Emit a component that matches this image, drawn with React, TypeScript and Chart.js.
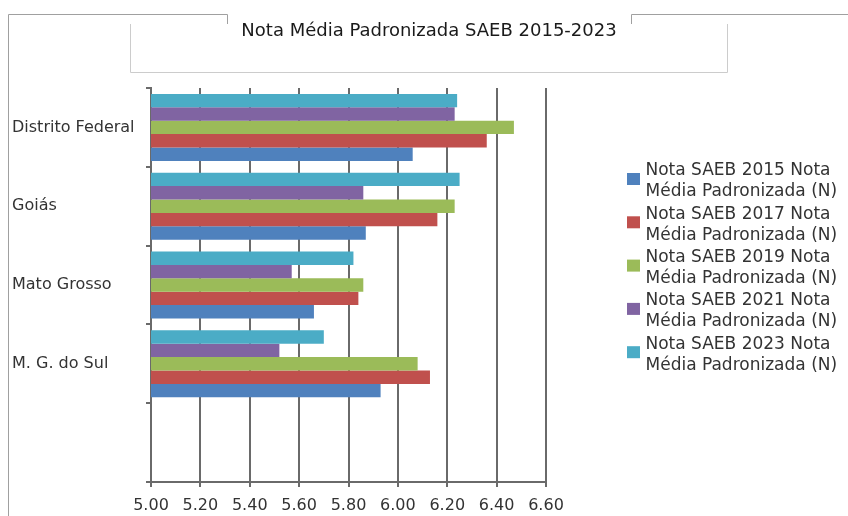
import React, { useEffect, useRef } from 'react';
import { Chart, registerables } from 'chart.js';

Chart.register(...registerables);

// ---- data ----
const categories = ['Distrito Federal', 'Goiás', 'Mato Grosso', 'M. G. do Sul', ''];
const saeb2015 = [6.06, 5.87, 5.66, 5.93, null];
const saeb2017 = [6.36, 6.16, 5.84, 6.13, null];
const saeb2019 = [6.47, 6.23, 5.86, 6.08, null];
const saeb2021 = [6.23, 5.86, 5.57, 5.52, null];
const saeb2023 = [6.24, 6.25, 5.82, 5.70, null];
const seriesNames = [
  'Nota SAEB 2015 Nota\nMédia Padronizada (N)',
  'Nota SAEB 2017 Nota\nMédia Padronizada (N)',
  'Nota SAEB 2019 Nota\nMédia Padronizada (N)',
  'Nota SAEB 2021 Nota\nMédia Padronizada (N)',
  'Nota SAEB 2023 Nota\nMédia Padronizada (N)',
];
const seriesColors = ['#4F81BD', '#C0504D', '#9BBB59', '#8064A2', '#4BACC6'];
const xMin = 5.0;
const xMax = 6.6;
const xStep = 0.2;
const chartTitle = 'Nota Média Padronizada SAEB 2015-2023';

const FONT = '"DejaVu Sans", "Liberation Sans", sans-serif';

const decorPlugin = {
  id: 'decor',
  afterDraw(chart: any) {
    const ctx = chart.ctx as CanvasRenderingContext2D;
    const W = chart.width;
    const H = chart.height;
    const area = chart.chartArea;
    ctx.save();
    // outer frame (with gap for title)
    ctx.strokeStyle = '#a0a0a0';
    ctx.lineWidth = 1;
    ctx.beginPath();
    ctx.moveTo(227.5, 24);
    ctx.lineTo(227.5, 14.5);
    ctx.lineTo(8.5, 14.5);
    ctx.lineTo(8.5, H);
    ctx.moveTo(631.5, 24);
    ctx.lineTo(631.5, 14.5);
    ctx.lineTo(W, 14.5);
    ctx.stroke();
    // title box
    ctx.strokeStyle = '#cccccc';
    ctx.beginPath();
    ctx.moveTo(130.5, 24);
    ctx.lineTo(130.5, 72.5);
    ctx.lineTo(727.5, 72.5);
    ctx.lineTo(727.5, 24);
    ctx.stroke();
    // title text
    ctx.fillStyle = '#1a1a1a';
    ctx.font = `18px ${FONT}`;
    ctx.textAlign = 'center';
    ctx.textBaseline = 'middle';
    ctx.fillText(chartTitle, 429, 31);

    // legend (series in reverse dataset order: 2015 first)
    const ds = chart.data.datasets;
    const n = ds.length;
    const lx = area.right + 81;
    const ly = 171;
    const itemH = 43.3;
    const lineH = 21;
    ctx.font = `17px ${FONT}`;
    ctx.textAlign = 'left';
    for (let i = 0; i < n; i++) {
      const d = ds[n - 1 - i];
      const y0 = ly + itemH * i;
      ctx.fillStyle = d.backgroundColor;
      ctx.fillRect(lx, y0 + 2, 13, 12);
      ctx.fillStyle = '#333333';
      const lines = String(d.legendText).split('\n');
      lines.forEach((t: string, k: number) => ctx.fillText(t, lx + 18.5, y0 + k * lineH));
    }
    ctx.restore();
  },
};

export default function App() {
  const ref = useRef<HTMLCanvasElement | null>(null);
  useEffect(() => {
    if (!ref.current) return;
    const series = [saeb2015, saeb2017, saeb2019, saeb2021, saeb2023];
    // Reverse so 2023 sits on top of each group like the reference
    const datasets = series
      .map((data, i) => ({
        label: seriesNames[i].replace('\n', ' '),
        legendText: seriesNames[i],
        data,
        backgroundColor: seriesColors[i],
        borderWidth: 0,
        barPercentage: 1,
        categoryPercentage: 0.85,
      }))
      .reverse();
    const gridColor = '#6a6a6a';
    const chart = new Chart(ref.current, {
      type: 'bar',
      data: { labels: categories, datasets: datasets as any },
      options: {
        indexAxis: 'y',
        animation: false,
        responsive: false,
        layout: { padding: { top: 88, right: 302, left: 12, bottom: 0 } },
        plugins: {
          legend: { display: false },
          tooltip: { enabled: false },
          title: { display: false },
        },
        scales: {
          y: {
            type: 'category',
            offset: true,
            grid: {
              display: true,
              drawOnChartArea: false,
              drawTicks: true,
              tickLength: 5,
              offset: true,
              color: gridColor,
              lineWidth: 2,
            },
            border: { display: true, color: gridColor, width: 2 },
            ticks: {
              crossAlign: 'far',
              color: '#333333',
              font: { family: FONT, size: 16 },
              autoSkip: false,
            },
            afterFit: (scale: any) => {
              scale.width = 139;
            },
          },
          x: {
            type: 'linear',
            min: xMin,
            max: xMax,
            grid: {
              display: true,
              color: gridColor,
              lineWidth: 2,
              drawTicks: true,
              tickLength: 5,
            },
            border: { display: true, color: gridColor, width: 2 },
            ticks: {
              stepSize: xStep,
              padding: 9,
              color: '#333333',
              font: { family: FONT, size: 16 },
              callback: (v: any) => Number(v).toFixed(2),
            },
            afterFit: (scale: any) => {
              scale.height = 34;
            },
          },
        },
      },
      plugins: [decorPlugin],
    });
    return () => chart.destroy();
  }, []);
  return (
    <div style={{ position: 'absolute', left: 0, top: 0, width: 848, height: 516, background: '#fff' }}>
      <canvas ref={ref} width={848} height={516} style={{ display: 'block' }} />
    </div>
  );
}
